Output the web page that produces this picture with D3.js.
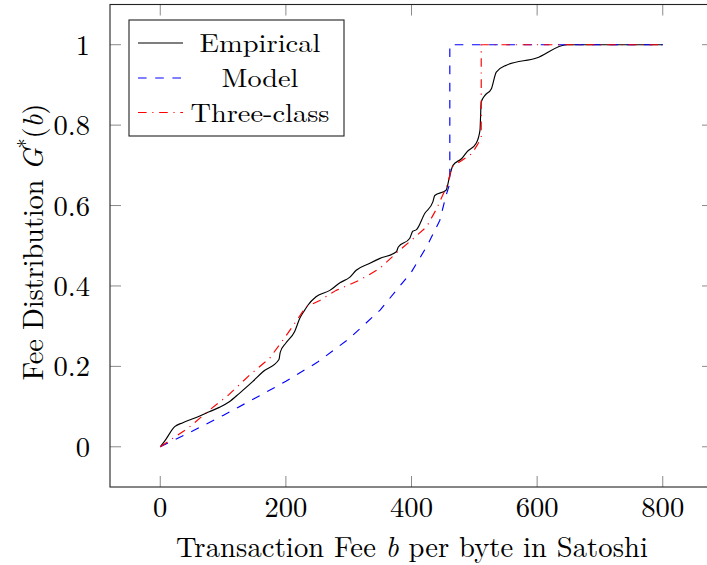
<!DOCTYPE html>
<html>
<head>
<meta charset="utf-8">
<script src="https://cdn.jsdelivr.net/npm/d3@7"></script>
<style>
  html, body { margin: 0; padding: 0; background: #fff; }
  svg { display: block; }
  text { font-family: "Latin Modern Roman", "CMU Serif", "Liberation Serif", "Times New Roman", serif; fill: #000; }
</style>
</head>
<body>
<svg id="chart" width="707" height="565"></svg>
<script>
// ---- data ----
const empiricalB = [0, 7, 23, 36, 62, 78, 94, 110, 126, 147, 163, 189, 191, 200, 214, 222, 230, 235, 248, 270, 286, 302, 312, 333, 349, 376, 379, 397, 402, 408, 421, 434, 437, 455, 461, 466, 480, 488, 503, 509, 511, 517, 527, 535, 551, 599, 647, 800];
const empiricalG = [0, 0.014, 0.05, 0.06, 0.076, 0.087, 0.098, 0.112, 0.133, 0.162, 0.186, 0.217, 0.235, 0.258, 0.287, 0.319, 0.34, 0.352, 0.373, 0.389, 0.408, 0.422, 0.439, 0.456, 0.468, 0.485, 0.497, 0.518, 0.536, 0.54, 0.58, 0.609, 0.625, 0.638, 0.675, 0.70, 0.717, 0.733, 0.755, 0.787, 0.857, 0.874, 0.89, 0.932, 0.949, 0.967, 1.0, 1.0];

const modelB = [0, 50, 100, 150, 200, 250, 300, 350, 400, 425, 445, 455, 461, 461, 800];
const modelG = [0, 0.038, 0.078, 0.12, 0.163, 0.21, 0.268, 0.34, 0.435, 0.50, 0.563, 0.625, 0.655, 1, 1];

const threeB = [0, 20, 44, 78, 108, 142, 174, 203, 232, 254, 280, 317, 349, 378, 400, 424, 440, 458, 464, 480, 496, 506, 511, 511, 800];
const threeG = [0, 0.021, 0.046, 0.091, 0.128, 0.178, 0.22, 0.282, 0.348, 0.364, 0.389, 0.414, 0.443, 0.485, 0.514, 0.547, 0.592, 0.655, 0.696, 0.712, 0.729, 0.754, 0.77, 1, 1];

const xTicks = [0, 200, 400, 600, 800];
const yTicks = [0, 0.2, 0.4, 0.6, 0.8, 1];
const yTickLabels = ["0", "0.2", "0.4", "0.6", "0.8", "1"];
const seriesNames = ["Empirical", "Model", "Three-class"];

// ---- layout ----
const svg = d3.select("#chart");
const FS = 28.6;
const LFS = 26;
const pL = 110, pR = 713, pT = 4.5, pB = 487;
const x = d3.scaleLinear().domain([-80, 880]).range([pL, pR]);
const y = d3.scaleLinear().domain([-0.1, 1.1]).range([pB, pT]);

const styles = [
  { color: "#000000", dash: null, width: 1.15 },
  { color: "#0000ff", dash: "8.6,8.6", width: 1.15 },
  { color: "#ff0000", dash: "8.6,5.7,1.15,5.7", width: 1.15 }
];

// ticks (inside the frame, on all sides)
const tickLen = 11;
const tg = svg.append("g").attr("stroke", "#8a8a8a").attr("stroke-width", 1);
xTicks.forEach(t => {
  tg.append("line").attr("x1", x(t)).attr("x2", x(t)).attr("y1", pB).attr("y2", pB - tickLen);
  tg.append("line").attr("x1", x(t)).attr("x2", x(t)).attr("y1", pT).attr("y2", pT + tickLen);
});
yTicks.forEach(t => {
  tg.append("line").attr("x1", pL).attr("x2", pL + tickLen).attr("y1", y(t)).attr("y2", y(t));
  tg.append("line").attr("x1", pR).attr("x2", pR - tickLen).attr("y1", y(t)).attr("y2", y(t));
});

// lines
const line = d3.line().x(d => x(d[0])).y(d => y(d[1]));
const smooth = d3.line().x(d => x(d[0])).y(d => y(d[1])).curve(d3.curveMonotoneX);
const datasets = [
  empiricalB.map((b, i) => [b, empiricalG[i]]),
  modelB.map((b, i) => [b, modelG[i]]),
  threeB.map((b, i) => [b, threeG[i]])
];
datasets.forEach((ds, i) => {
  const s = styles[i];
  const p = svg.append("path")
    .attr("d", i === 0 ? smooth(ds) : line(ds))
    .attr("fill", "none")
    .attr("stroke", s.color)
    .attr("stroke-width", s.width)
    .attr("stroke-linejoin", "round");
  if (s.dash) p.attr("stroke-dasharray", s.dash);
});

// frame
svg.append("rect")
  .attr("x", pL).attr("y", pT)
  .attr("width", pR - pL).attr("height", pB - pT)
  .attr("fill", "none").attr("stroke", "#222").attr("stroke-width", 1.1);

// tick labels
xTicks.forEach(t => {
  svg.append("text").attr("x", x(t)).attr("y", 517)
    .attr("text-anchor", "middle").attr("font-size", FS).text(t);
});
yTicks.forEach((t, i) => {
  svg.append("text").attr("x", 90).attr("y", y(t)).attr("dy", "0.35em")
    .attr("text-anchor", "end").attr("font-size", FS).text(yTickLabels[i]);
});

// axis labels
const xl = svg.append("text").attr("x", 412).attr("y", 557)
  .attr("text-anchor", "middle").attr("font-size", FS)
  .attr("textLength", 472).attr("lengthAdjust", "spacing");
xl.append("tspan").text("Transaction Fee ");
xl.append("tspan").attr("font-style", "italic").text("b");
xl.append("tspan").text(" per byte in Satoshi");

const yl = svg.append("text")
  .attr("transform", "translate(43,242) rotate(-90)")
  .attr("text-anchor", "middle").attr("font-size", FS)
  .attr("textLength", 277).attr("lengthAdjust", "spacing");
yl.append("tspan").text("Fee Distribution ");
yl.append("tspan").attr("font-style", "italic").text("G");
yl.append("tspan").attr("font-size", FS * 0.7).attr("dy", -11).text("*");
yl.append("tspan").attr("dy", 11).text("(");
yl.append("tspan").attr("font-style", "italic").text("b");
yl.append("tspan").text(")");

// legend
const lg = svg.append("g");
lg.append("rect").attr("x", 129).attr("y", 20).attr("width", 215).attr("height", 116)
  .attr("fill", "#fff").attr("stroke", "#222").attr("stroke-width", 1.1);
const legY = [43, 78, 112.5];
const legW = [121, 77, 139];
seriesNames.forEach((n, i) => {
  const s = styles[i];
  const l = lg.append("line").attr("x1", 138).attr("x2", 183).attr("y1", legY[i]).attr("y2", legY[i])
    .attr("stroke", s.color).attr("stroke-width", s.width);
  if (s.dash) l.attr("stroke-dasharray", s.dash);
  lg.append("text").attr("x", 260).attr("y", legY[i]).attr("dy", "0.36em")
    .attr("text-anchor", "middle").attr("font-size", LFS)
    .attr("textLength", legW[i]).attr("lengthAdjust", "spacingAndGlyphs").text(n);
});
</script>
</body>
</html>
